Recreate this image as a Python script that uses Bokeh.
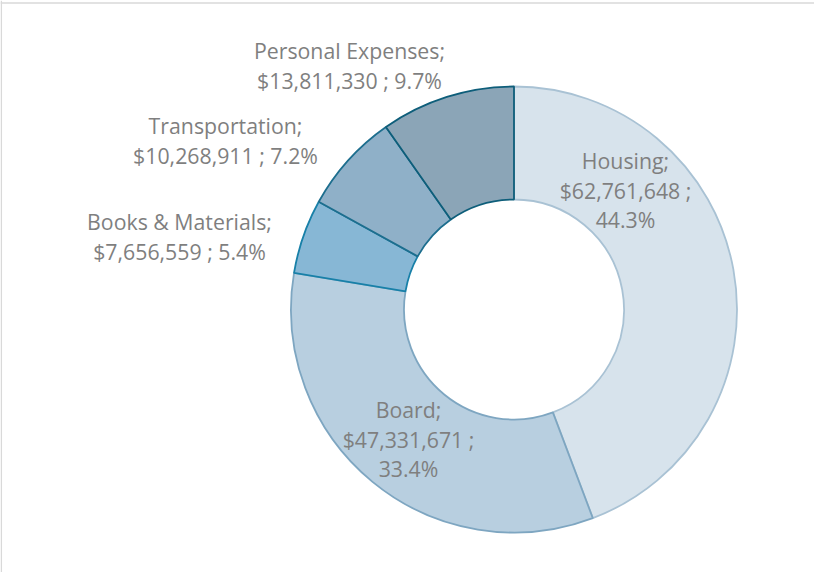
import math
from bokeh.plotting import figure
from bokeh.models import ColumnDataSource, Range1d, Span
from bokeh.core.properties import value
from bokeh.embed import file_html
from bokeh.resources import INLINE

# ---- data ----
categories = ["Housing", "Board", "Books & Materials", "Transportation", "Personal Expenses"]
amounts = [62761648, 47331671, 7656559, 10268911, 13811330]
percents = ["44.3%", "33.4%", "5.4%", "7.2%", "9.7%"]

# ---- style ----
fill_colors = ["#d7e3ec", "#b8cfe0", "#87b7d5", "#8fb0c8", "#8ba5b7"]
line_colors = ["#a9c2d4", "#7ea6c1", "#1880a8", "#1d6e8e", "#0e5e7a"]

W, H = 814, 572
p = figure(width=W, height=H, output_backend="svg", toolbar_location=None,
           x_range=Range1d(0, W), y_range=Range1d(0, H),
           min_border=0, outline_line_color=None)
p.axis.visible = False
p.grid.visible = False
p.background_fill_color = "white"
p.border_fill_color = "white"

cx, cy = 513.5, 263.0
r_out, r_in = 223.0, 110.0

total = float(sum(amounts))
starts, ends = [], []
a = math.pi / 2
for v in amounts:
    starts.append(a)
    a -= 2 * math.pi * v / total
    ends.append(a)

src = ColumnDataSource(dict(cat=categories, start=starts, end=ends,
                            fill=fill_colors, line=line_colors))
p.annular_wedge(x=cx, y=cy, inner_radius=r_in, outer_radius=r_out,
                start_angle="start", end_angle="end", direction="clock",
                fill_color="fill", line_color="line", line_width=1.8,
                source=src)

# labels
def money(v):
    return "${:,}".format(v)

label_lines = []
label_x = []
label_y = []
# label block anchors (layout: centre x and first-line y in canvas px from top)
anchors = {
    "Housing": (625, 160, 3),
    "Board": (408, 409, 3),
    "Books & Materials": (179, 221, 2),
    "Transportation": (225, 125, 2),
    "Personal Expenses": (349, 50, 2),
}
line_gap = 29.5
for c, v, pc in zip(categories, amounts, percents):
    ax, ay, n = anchors[c]
    if n == 3:
        lines = [c + ";", money(v) + " ;", pc]
    else:
        lines = [c + ";", money(v) + " ; " + pc]
    for i, t in enumerate(lines):
        label_lines.append(t)
        label_x.append(ax)
        label_y.append(H - (ay + i * line_gap))

p.text(x=label_x, y=label_y, text=label_lines, text_align="center",
       text_baseline="middle", text_color="#7f7f7f",
       text_font=value("Open Sans"), text_font_size="21.3px")

# chart-area frame (top and left edges)
p.add_layout(Span(location=H - 2.5, dimension="width", line_color="#d9d9d9", line_width=1.5))
p.add_layout(Span(location=0.8, dimension="height", line_color="#d9d9d9", line_width=1.5))

open("out.html", "w").write(file_html(p, INLINE))
